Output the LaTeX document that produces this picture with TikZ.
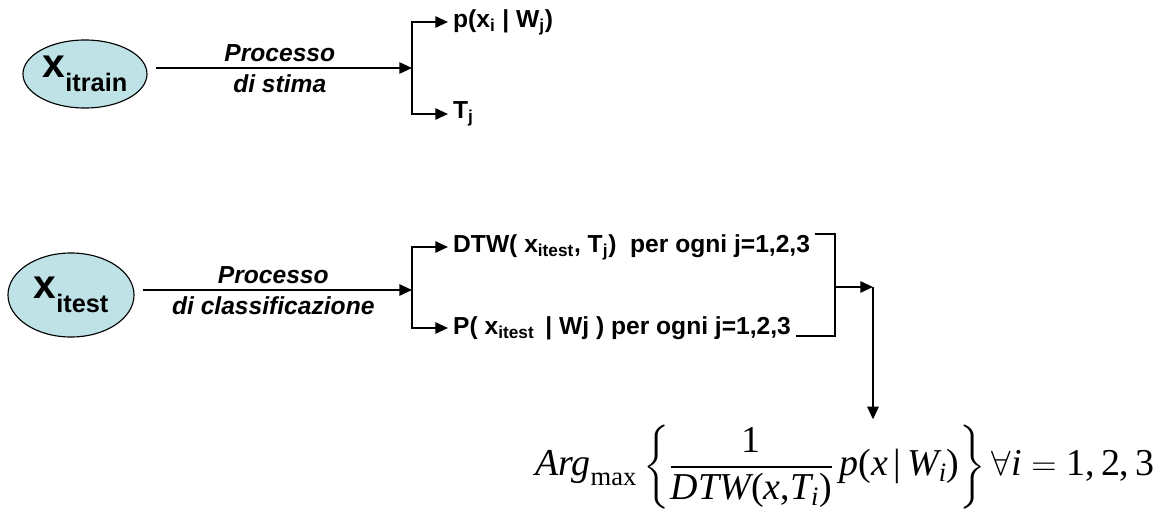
\documentclass[tikz,border=0pt]{standalone}
\usepackage{amsmath}
\usepackage{fontspec}
\setmainfont{Liberation Sans}
\newfontfamily\timesfont{Liberation Serif}
\usetikzlibrary{arrows.meta,shapes.geometric,positioning}
\definecolor{ballfill}{RGB}{190,226,230}
\newcommand{\ti}[1]{\text{\timesfont\itshape #1}}
\newcommand{\tu}[1]{\text{\timesfont #1}}
\newcommand{\bx}[1]{{\fontsize{29}{29}\selectfont x}\raisebox{-10pt}{\fontsize{18}{18}\selectfont #1}}

\begin{document}
\begin{tikzpicture}[x=0.025cm,y=-0.025cm,line width=1.4pt,>={Triangle[length=9pt,width=8pt]},
	ball/.style={ellipse,draw,fill=ballfill,line width=0.8pt,inner sep=0pt,font=\bfseries},
	lbl/.style={font=\bfseries\fontsize{17.5}{20}\selectfont,inner sep=3pt,anchor=west},
	proc/.style={font=\bfseries\itshape\fontsize{17.5}{20}\selectfont,inner sep=4pt}]
	\useasboundingbox (0,0) rectangle (1160,527);
	% training branch
	\node[ball,minimum width=3.1cm,minimum height=1.7cm] (train) at (85,74) {\bx{itrain}};
	\coordinate (fork1) at (412,68);
	\node[lbl] (pxw) at (448,22) {p(x\textsubscript{i} | W\textsubscript{j})};
	\node[lbl] (tj) at (448,114) {T\textsubscript{j}};
	\draw[->,shorten <=6pt] (train.east |- fork1) -- node[proc,above]{Processo} node[proc,below]{di stima} (fork1);
	\draw[->] (fork1) |- (pxw);\draw[->] (fork1) |- (tj);
	% test branch
	\node[ball,minimum width=3.15cm,minimum height=2.1cm] (test) at (71,295) {\bx{itest}};
	\coordinate (fork2) at (412,290);
	\node[lbl] (dtw) at (448,247) {DTW( x\textsubscript{itest}, T\textsubscript{j})\ \ per ogni j=1,2,3};
	\node[lbl] (pxt) at (448,328) {P( x\textsubscript{itest} \,| Wj ) per ogni j=1,2,3};
	\draw[->,shorten <=6pt] (test.east |- fork2) -- node[proc,above]{Processo} node[proc,below]{di classificazione} (fork2);
	\draw[->] (fork2) |- (dtw);\draw[->] (fork2) |- (pxt);
	\coordinate (merge) at (835,287);
	\coordinate (tip) at (873,287);
	\draw ([yshift=-3.5pt]dtw.north east) -| (merge) |- ([yshift=-1pt]pxt.base east);
	\draw[->] (merge) -- (tip);
	\node[font=\fontsize{27}{32}\selectfont] (argmax) at (845,467)
		{$\ti{Arg}_{\tu{max}}\left\{\dfrac{\tu{1}}{\ti{DTW}\tu{(}\ti{x}\tu{,}\ti{T}_{\ti{i}}\tu{)}}\,\ti{p}\tu{(}\ti{x}\,\tu{|}\,\ti{W}_{\ti{i}}\tu{)}\right\}\forall\ti{i}=\tu{1,\,2,\,3}$};
	\draw[->] (tip) -- (tip |- argmax.north);
\end{tikzpicture}
\end{document}
